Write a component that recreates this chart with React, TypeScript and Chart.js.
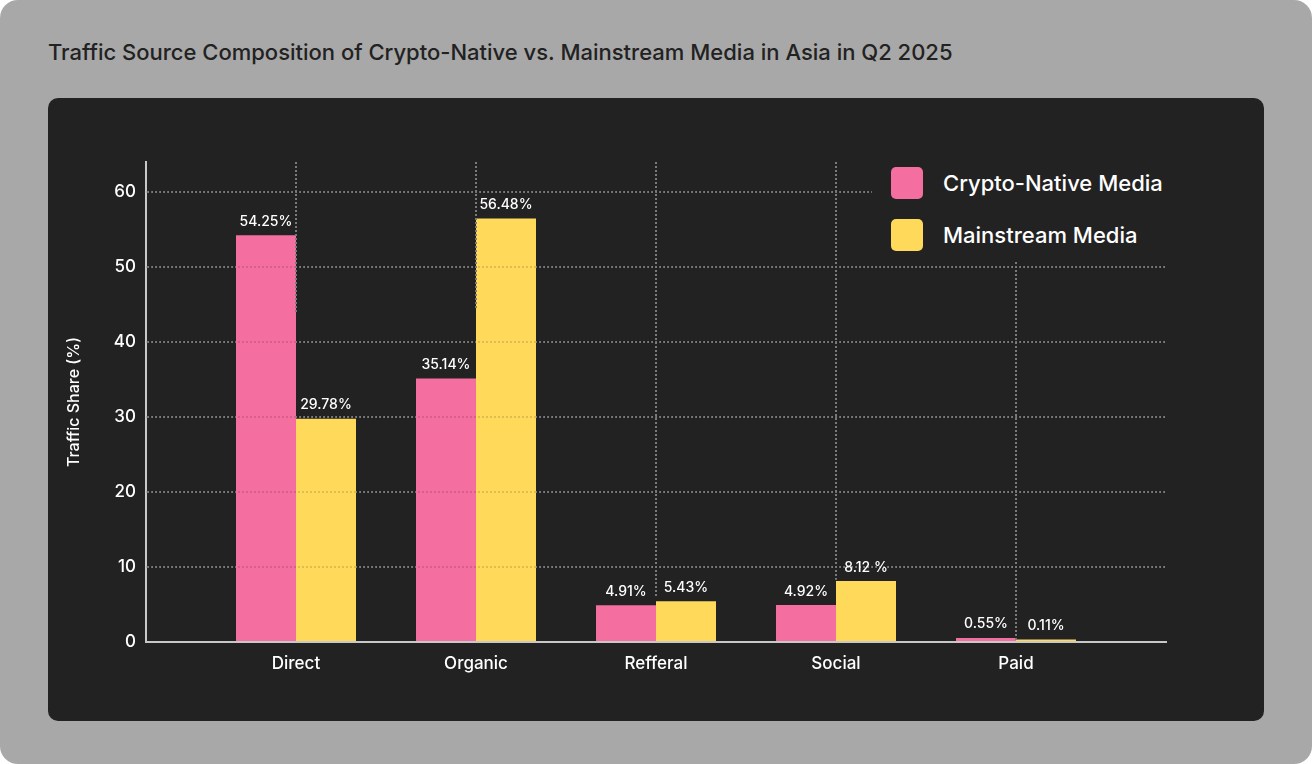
import React, { useEffect, useRef } from "react";
import { Chart, registerables } from "chart.js";

Chart.register(...registerables);

const categories = ["Direct", "Organic", "Refferal", "Social", "Paid"];
const cryptoValues = [54.25, 35.14, 4.91, 4.92, 0.55];
const mainstreamValues = [29.78, 56.48, 5.43, 8.12, 0.11];
const cryptoLabels = ["54.25%", "35.14%", "4.91%", "4.92%", "0.55%"];
const mainstreamLabels = ["29.78%", "56.48%", "5.43%", "8.12 %", "0.11%"];
const yTicks = [0, 10, 20, 30, 40, 50, 60];
// where the dotted vertical guide at each category stops (value units)
const guideEnds = [44, 44.3, 5.9, 8.3, 0];

const PINK = "#F46FA0";
const YELLOW = "#FFD95A";
const FONT = "Inter, 'Noto Sans', sans-serif";

const overlayPlugin = {
  id: "overlay",
  afterDatasetsDraw(chart: any) {
    const { ctx, chartArea, scales } = chart;
    const x = scales.x;
    const y = scales.y;
    ctx.save();
    // faint dotted lines over bars
    ctx.setLineDash([2, 2]);
    ctx.lineWidth = 2;
    ctx.strokeStyle = "rgba(0,0,0,0.13)";
    yTicks.forEach((t) => {
      if (t === 0) return;
      const py = Math.round(y.getPixelForValue(t));
      ctx.beginPath();
      ctx.moveTo(chartArea.left, py);
      ctx.lineTo(chartArea.right, py);
      ctx.stroke();
    });
    // vertical guides
    ctx.strokeStyle = "#7a7a7a";
    categories.forEach((_, i) => {
      const px = Math.round(x.getPixelForValue(i));
      ctx.beginPath();
      ctx.moveTo(px, chartArea.top);
      ctx.lineTo(px, y.getPixelForValue(guideEnds[i]));
      ctx.stroke();
    });
    ctx.setLineDash([]);
    // value labels
    ctx.fillStyle = "#ffffff";
    ctx.font = `500 14px ${FONT}`;
    ctx.textAlign = "center";
    ctx.textBaseline = "alphabetic";
    const labelSets = [cryptoLabels, mainstreamLabels];
    chart.data.datasets.forEach((_: any, di: number) => {
      const meta = chart.getDatasetMeta(di);
      meta.data.forEach((el: any, i: number) => {
        ctx.fillText(labelSets[di][i], el.x, el.y - 9.5);
      });
    });
    ctx.restore();
  },
};

function ChartCanvas() {
  const ref = useRef<HTMLCanvasElement | null>(null);
  useEffect(() => {
    if (!ref.current) return;
    const chart = new Chart(ref.current, {
      type: "bar",
      data: {
        datasets: [
          {
            label: "Crypto-Native Media",
            data: cryptoValues.map((v, i) => ({ x: i, y: v })),
            backgroundColor: PINK,
            borderWidth: 0,
            categoryPercentage: 2 / 3,
            barPercentage: 1,
            minBarLength: 2.5,
          },
          {
            label: "Mainstream Media",
            data: mainstreamValues.map((v, i) => ({ x: i, y: v })),
            backgroundColor: YELLOW,
            borderWidth: 0,
            categoryPercentage: 2 / 3,
            barPercentage: 1,
            minBarLength: 2.5,
          },
        ],
      } as any,
      options: {
        animation: false,
        responsive: true,
        maintainAspectRatio: false,
        layout: { padding: { top: 64, right: 98, left: 0, bottom: 0 } },
        plugins: { legend: { display: false }, tooltip: { enabled: false } },
        scales: {
          x: {
            type: "linear",
            offset: false,
            min: -0.8333,
            max: 4.8333,
            afterBuildTicks: (s: any) => {
              s.ticks = categories.map((_, i) => ({ value: i }));
            },
            afterFit: (s: any) => {
              s.height = 79;
            },
            grid: { display: false, drawTicks: false, offset: false },
            border: { display: true, color: "#c8c8c8", width: 2 },
            ticks: {
              color: "#ffffff",
              font: { family: FONT, size: 17, weight: "500" },
              padding: 12,
              callback: (v: any) => categories[v] ?? "",
            },
          },
          y: {
            min: 0,
            max: 64,
            afterBuildTicks: (s: any) => {
              s.ticks = yTicks.map((v) => ({ value: v }));
            },
            afterFit: (s: any) => {
              s.width = 98;
            },
            grid: {
              color: "#7a7a7a",
              lineWidth: 2,
              drawTicks: false,
              tickLength: 0,
            } as any,
            border: { display: true, color: "#c8c8c8", width: 2, dash: [2, 2] } as any,
            ticks: {
              color: "#ffffff",
              font: { family: FONT, size: 17, weight: "500" },
              padding: 10,
            },
            title: {
              display: true,
              text: "Traffic Share (%)",
              color: "#ffffff",
              font: { family: FONT, size: 16, weight: "500" },
              padding: { top: 17, bottom: 0 },
            },
          },
        },
      } as any,
      plugins: [overlayPlugin],
    });
    return () => chart.destroy();
  }, []);
  return <canvas ref={ref} />;
}

export default function App() {
  return (
    <div
      style={{
        position: "fixed",
        left: 0,
        top: 0,
        width: 1312,
        height: 764,
        background: "#ffffff",
        fontFamily: FONT,
      }}
    >
      <div
        style={{
          position: "absolute",
          inset: 0,
          background: "#a8a8a8",
          borderRadius: 18,
        }}
      >
        <div
          style={{
            position: "absolute",
            left: 48,
            top: 39,
            fontSize: 22,
            fontWeight: 500,
            color: "#222222",
            lineHeight: "26px",
            whiteSpace: "nowrap",
          }}
        >
          Traffic Source Composition of Crypto-Native vs. Mainstream Media in Asia in Q2 2025
        </div>
        <div
          style={{
            position: "absolute",
            left: 48,
            top: 98,
            width: 1216,
            height: 623,
            background: "#222222",
            borderRadius: 10,
            overflow: "hidden",
          }}
        >
          <div style={{ position: "absolute", inset: 0 }}>
            <ChartCanvas />
          </div>
          <div
            style={{
              position: "absolute",
              left: 824,
              top: 62,
              width: 306,
              height: 102,
              background: "#222222",
            }}
          >
            {[
              { c: PINK, t: "Crypto-Native Media", y: 7 },
              { c: YELLOW, t: "Mainstream Media", y: 59 },
            ].map((it) => (
              <div key={it.t} style={{ position: "absolute", left: 19, top: it.y, height: 32, display: "flex", alignItems: "center" }}>
                <div style={{ width: 32, height: 32, borderRadius: 5, background: it.c }} />
                <div style={{ marginLeft: 20, fontSize: 22, color: "#ffffff", fontWeight: 500, whiteSpace: "nowrap" }}>{it.t}</div>
              </div>
            ))}
          </div>
        </div>
      </div>
    </div>
  );
}
